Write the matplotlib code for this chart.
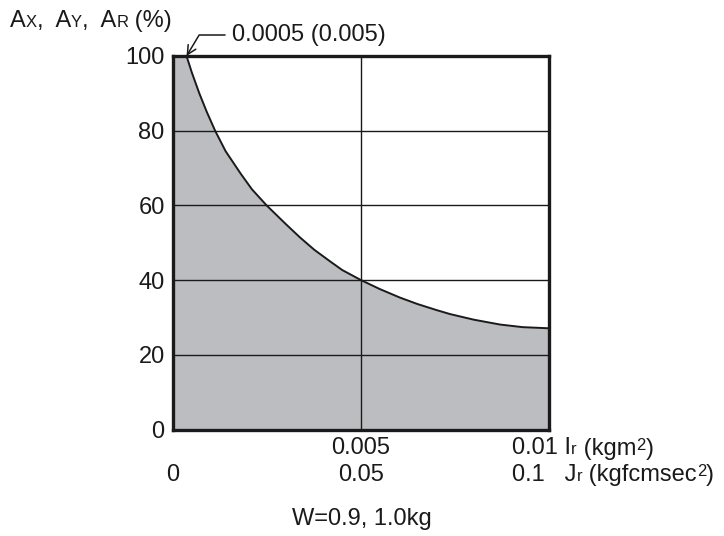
import matplotlib
matplotlib.use("Agg")
import matplotlib.pyplot as plt
import matplotlib.transforms as mtrans
from matplotlib.offsetbox import TextArea, HPacker, AnchoredOffsetbox

plt.rcParams['font.family'] = ['Liberation Sans', 'DejaVu Sans']

# Data
inertia = [0.00036, 0.0005, 0.0007, 0.0009, 0.00112, 0.0014, 0.0018, 0.0021,
           0.00249, 0.003, 0.00338, 0.00376, 0.00418, 0.0045, 0.005, 0.0055,
           0.00604, 0.0065, 0.007, 0.00737, 0.008, 0.0087, 0.0093, 0.01]
accel = [100, 95.6, 90, 85, 80, 74.5, 68.5, 64.3, 60, 55, 51.4, 48.1, 45.0,
         42.7, 40, 37.6, 35.3, 33.6, 32.0, 30.9, 29.4, 28.1, 27.4, 27.1]
yticks = [0, 20, 40, 60, 80, 100]
xtick_mid = 0.005
ir_mid_label = "0.005"
jr_zero_label = "0"
jr_mid_label = "0.05"
ir_end_label = "0.01"
jr_end_label = "0.1"

W, H = 724, 536
fig = plt.figure(figsize=(W/100, H/100), dpi=100)
L, R, T, B = 173, 549, 56, 429.5
ax = fig.add_axes([L/W, 1-B/H, (R-L)/W, (B-T)/H])

fs = 17
small = 12
ink = '#1a1a1a'
ax.fill_between([0] + inertia, [100] + accel, 0, color='#bcbdc0', lw=0, zorder=1)
ax.plot(inertia, accel, color=ink, lw=1.4, zorder=3)
ax.set_xlim(0, 0.01)
ax.set_ylim(0, 100)
ax.set_yticks(yticks)
ax.set_yticklabels([str(v) for v in yticks], fontsize=fs, color=ink)
ax.tick_params(axis='y', length=0, pad=6)
ax.set_xticks([])
for v in yticks[1:-1]:
    ax.axhline(v, color=ink, lw=1.0, zorder=2)
ax.axvline(xtick_mid, color=ink, lw=1.0, zorder=2)
for s in ax.spines.values():
    s.set_linewidth(2.4)
    s.set_color(ink)
    s.set_zorder(4)

ftrans = fig.transFigure
def fx(px):
    return px / W
def fy(py):
    return 1 - py / H

blend = mtrans.blended_transform_factory(ax.transData, ftrans)
fig.text(xtick_mid, fy(448.5), ir_mid_label, transform=blend, ha='center', va='center', fontsize=fs, color=ink)
fig.text(xtick_mid, fy(475), jr_mid_label, transform=blend, ha='center', va='center', fontsize=fs, color=ink)
fig.text(0.0, fy(475), jr_zero_label, transform=blend, ha='center', va='center', fontsize=fs, color=ink)

def ta(t, s):
    return TextArea(t, textprops=dict(fontsize=s, color=ink))

def baseline_pack(parts):
    return HPacker(children=[ta(t, s) for t, s in parts], align='baseline', pad=0, sep=0)

def place(child, xy, loc='center left'):
    box = AnchoredOffsetbox(loc=loc, child=child, frameon=False,
                            bbox_to_anchor=xy, bbox_transform=ftrans, pad=0, borderpad=0)
    fig.add_artist(box)

def unit_row(prefix, sym, unit):
    main = baseline_pack([(prefix + sym, fs), ("r", small), (" (" + unit, fs)])
    return HPacker(children=[main, ta("2", small), ta(")", fs)], align='top', pad=0, sep=0)

place(unit_row(ir_end_label + " ", "I", "kgm"), (fx(512), fy(448.5)))
place(unit_row(jr_end_label + "   ", "J", "kgfcmsec"), (fx(512), fy(475)))

# y label
place(baseline_pack([("A", fs), ("X", small), (",  A", fs), ("Y", small), (",  A", fs),
                     ("R", small), (" (%)", fs)]), (fx(10), fy(21)))

# annotation
ax.annotate("0.0005 (0.005)", xy=(inertia[0], 100), xytext=(fx(232), fy(35)),
            textcoords='figure fraction', fontsize=fs, va='center', ha='left', color=ink,
            arrowprops=dict(arrowstyle='->', color=ink, lw=1.1,
                            connectionstyle='angle,angleA=0,angleB=59,rad=0',
                            shrinkA=3, shrinkB=0, mutation_scale=16),
            annotation_clip=False)

fig.text(fx(362), fy(519), "W=0.9, 1.0kg", ha='center', va='center', fontsize=fs, color=ink)

fig.savefig("out.png", dpi=100)
